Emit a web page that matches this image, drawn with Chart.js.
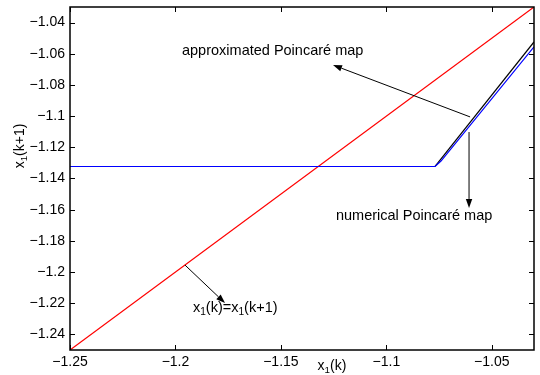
<!DOCTYPE html>
<html>
<head>
<meta charset="utf-8">
<script src="https://cdn.jsdelivr.net/npm/chart.js@4"></script>
<style>
  body { margin: 0; background: #fff; }
  canvas { display: block; }
</style>
</head>
<body>
<canvas id="myChart" width="540" height="375"></canvas>
<script>
// data
const identityX = [-1.25, -1.03];
const identityY = [-1.25, -1.03];
const approxX = [-1.0769, -1.03];
const approxY = [-1.1323, -1.0524];
const numericalX = [-1.25, -1.0769, -1.0741, -1.03];
const numericalY = [-1.1323, -1.1323, -1.1288, -1.0556];
const xTicks = [-1.25, -1.2, -1.15, -1.1, -1.05];
const yTicks = [-1.24, -1.22, -1.2, -1.18, -1.16, -1.14, -1.12, -1.1, -1.08, -1.06, -1.04];

const FONT = "'Liberation Sans', Arial, Helvetica, sans-serif";
const FS = 14;

const toPoints = (xs, ys) => xs.map((x, i) => ({ x: x, y: ys[i] }));
const fmt = (v) => (v < 0 ? "\u2212" : "") + String(+Math.abs(v).toFixed(2));

// annotation arrows (data coords) and their labels
const notes = [
  { from: [-1.0603, -1.1005], to: [-1.1253, -1.0672],
    text: [{ t: "approximated Poincaré map" }], at: [-1.1969, -1.0582] },
  { from: [-1.0608, -1.1102], to: [-1.0608, -1.1589],
    text: [{ t: "numerical Poincaré map" }], at: [-1.1239, -1.1642] },
  { from: [-1.1955, -1.1955], to: [-1.1765, -1.2199],
    text: [{ t: "x" }, { t: "1", sub: true }, { t: "(k)=x" }, { t: "1", sub: true }, { t: "(k+1)" }],
    at: [-1.1917, -1.2232] },
];

function textWidth(ctx, parts, size) {
  let w = 0;
  parts.forEach((p) => {
    ctx.font = (p.sub ? size * 0.7 : size) + "px " + FONT;
    w += ctx.measureText(p.t).width;
  });
  return w;
}

function drawParts(ctx, parts, x, y, size) {
  ctx.textBaseline = "middle";
  ctx.textAlign = "left";
  parts.forEach((p) => {
    ctx.font = (p.sub ? size * 0.7 : size) + "px " + FONT;
    ctx.fillText(p.t, x, p.sub ? y + size * 0.3 : y);
    x += ctx.measureText(p.t).width;
  });
}

function arrow(ctx, x1, y1, x2, y2) {
  const a = Math.atan2(y2 - y1, x2 - x1);
  const len = 9, half = 3.2;
  ctx.beginPath();
  ctx.moveTo(x1, y1);
  ctx.lineTo(x2 - Math.cos(a) * len, y2 - Math.sin(a) * len);
  ctx.stroke();
  ctx.beginPath();
  ctx.moveTo(x2, y2);
  ctx.lineTo(x2 - Math.cos(a) * len - Math.sin(a) * half, y2 - Math.sin(a) * len + Math.cos(a) * half);
  ctx.lineTo(x2 - Math.cos(a) * len + Math.sin(a) * half, y2 - Math.sin(a) * len - Math.cos(a) * half);
  ctx.closePath();
  ctx.fill();
}

const matlabBox = {
  id: "matlabBox",
  afterDraw(chart) {
    const ctx = chart.ctx;
    const a = chart.chartArea;
    const xs = chart.scales.x, ys = chart.scales.y;
    ctx.save();
    ctx.strokeStyle = "#000";
    ctx.fillStyle = "#000";
    ctx.lineWidth = 1;
    // inward tick marks on all four sides
    const tl = 5;
    ctx.beginPath();
    xTicks.forEach((v) => {
      const px = Math.round(xs.getPixelForValue(v)) + 0.5;
      ctx.moveTo(px, a.bottom); ctx.lineTo(px, a.bottom - tl);
      ctx.moveTo(px, a.top); ctx.lineTo(px, a.top + tl);
    });
    yTicks.forEach((v) => {
      const py = Math.round(ys.getPixelForValue(v)) + 0.5;
      ctx.moveTo(a.left, py); ctx.lineTo(a.left + tl, py);
      ctx.moveTo(a.right, py); ctx.lineTo(a.right - tl, py);
    });
    ctx.stroke();
    ctx.lineWidth = 1.5;
    ctx.strokeRect(a.left, a.top, a.right - a.left, a.bottom - a.top);

    // annotations
    ctx.lineWidth = 1;
    notes.forEach((n) => {
      arrow(ctx,
        xs.getPixelForValue(n.from[0]), ys.getPixelForValue(n.from[1]),
        xs.getPixelForValue(n.to[0]), ys.getPixelForValue(n.to[1]));
      drawParts(ctx, n.text, xs.getPixelForValue(n.at[0]), ys.getPixelForValue(n.at[1]), 14.5);
    });

    // axis titles with subscripts
    const xt = [{ t: "x" }, { t: "1", sub: true }, { t: "(k)" }];
    const w1 = textWidth(ctx, xt, FS);
    drawParts(ctx, xt, 332 - w1 / 2, 366, FS);
    const yt = [{ t: "x" }, { t: "1", sub: true }, { t: "(k+1)" }];
    const w2 = textWidth(ctx, yt, FS);
    ctx.translate(20, 146);
    ctx.rotate(-Math.PI / 2);
    drawParts(ctx, yt, -w2 / 2, 0, FS);
    ctx.restore();
  },
};

new Chart(document.getElementById("myChart").getContext("2d"), {
  type: "scatter",
  data: {
    datasets: [
      { label: "numerical", data: toPoints(numericalX, numericalY), borderColor: "#0000ff", order: 0 },
      { label: "approximated", data: toPoints(approxX, approxY), borderColor: "#000000", order: 1 },
      { label: "x1(k)=x1(k+1)", data: toPoints(identityX, identityY), borderColor: "#ff0000", order: 2 },
    ].map((d) => Object.assign(d, { showLine: true, pointRadius: 0, borderWidth: 1.2, fill: false, tension: 0 })),
  },
  options: {
    responsive: false,
    animation: false,
    layout: { padding: { top: 7, right: 6, left: 0, bottom: 0 } },
    plugins: { legend: { display: false }, tooltip: { enabled: false } },
    scales: {
      x: {
        type: "linear", min: -1.25, max: -1.03,
        grid: { display: false, drawTicks: false },
        border: { display: false },
        afterBuildTicks: (s) => { s.ticks = xTicks.map((v) => ({ value: v })); },
        afterFit: (s) => { s.height = 25; s.paddingLeft = 0; s.paddingRight = 0; },
        ticks: { color: "#000", padding: 4, maxRotation: 0, autoSkip: false,
          font: { family: FONT, size: FS }, callback: fmt },
      },
      y: {
        type: "linear", min: -1.25, max: -1.03,
        grid: { display: false, drawTicks: false },
        border: { display: false },
        afterBuildTicks: (s) => { s.ticks = yTicks.map((v) => ({ value: v })); },
        afterFit: (s) => { s.width = 70; s.paddingTop = 0; s.paddingBottom = 0; },
        ticks: { color: "#000", padding: 5, autoSkip: false,
          font: { family: FONT, size: FS }, callback: fmt },
      },
    },
  },
  plugins: [matlabBox],
});
</script>
</body>
</html>
